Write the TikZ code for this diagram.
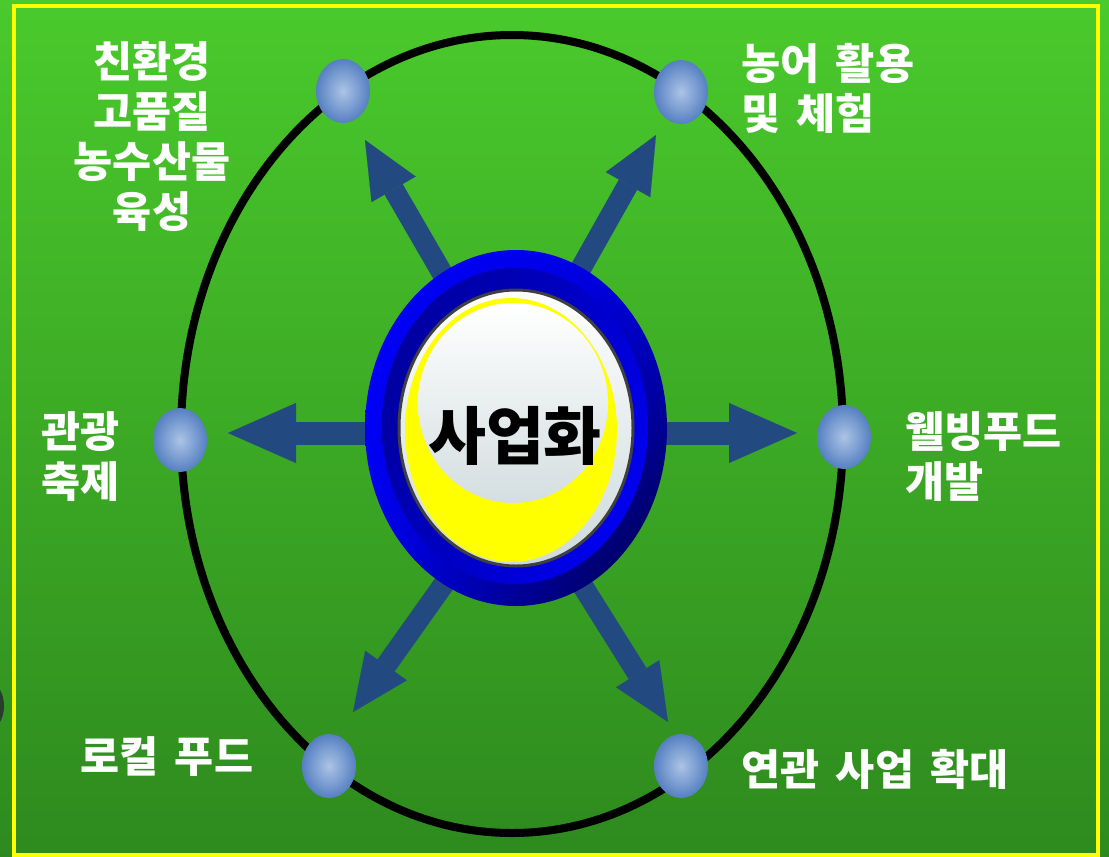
\documentclass[tikz,border=0pt]{standalone}
\usepackage{fontspec}
\newfontfamily\kr{Noto Sans CJK KR}[WordSpace=1.7]
\usetikzlibrary{arrows.meta,shapes.geometric,shadings}
\definecolor{arrowblue}{RGB}{35,74,128}
\definecolor{dotin}{RGB}{172,196,230}
\definecolor{dotout}{RGB}{86,128,194}
\definecolor{bgtop}{RGB}{74,202,44}
\definecolor{bgbot}{RGB}{46,138,30}
\definecolor{ringA}{RGB}{0,0,255}
\definecolor{ringB}{RGB}{0,0,224}
\definecolor{ringC}{RGB}{0,0,236}
\definecolor{ringD}{RGB}{0,0,64}
\definecolor{innA}{RGB}{0,0,150}
\definecolor{innB}{RGB}{0,0,210}
\definecolor{innC}{RGB}{0,0,180}
\definecolor{innD}{RGB}{0,0,255}
\definecolor{rimgray}{RGB}{64,64,64}
\definecolor{paleB}{RGB}{205,218,220}
\definecolor{paleC}{RGB}{212,222,224}
\definecolor{stray}{RGB}{40,62,45}
\definecolor{pureyellow}{RGB}{255,255,0}
\begin{document}
\begin{tikzpicture}[x=1pt,y=-1pt,
  dot/.style={ellipse, minimum width=54pt, minimum height=64pt, inner sep=0pt,
    shade, inner color=dotin, outer color=dotout},
  lbl/.style={text=white, font=\kr\bfseries\fontsize{42.5}{50}\selectfont, inner sep=0pt},
  diagarrow/.style={draw=arrowblue, line width=21pt,
    -{Triangle[length=57pt,width=51pt,line width=0.1pt]}},
  horarrow/.style={draw=arrowblue, line width=23pt,
    -{Triangle[length=68pt,width=60pt,line width=0.1pt]}}
]
\useasboundingbox (0,0) rectangle (1109,857);
% background
\shade[top color=bgtop, bottom color=bgbot] (0,0) rectangle (1109,857);
\fill[stray] (-10,706) ellipse [x radius=14pt, y radius=23pt];
\draw[pureyellow, line width=4pt] (14,6) rectangle (1098,855);
% big orbit
\draw[black, line width=8pt] (512,434) ellipse [x radius=331pt, y radius=399pt];
% dots
\node[dot] (c1) at (343,91) {};
\node[dot] (c2) at (681,92) {};
\node[dot] (c3) at (180,440) {};
\node[dot] (c4) at (844,437) {};
\node[dot] (c5) at (329,766) {};
\node[dot] (c6) at (681,766) {};
% arrow coordinates
\coordinate (s1) at (456,297); \coordinate (t1) at (365,140);
\coordinate (s2) at (567,293); \coordinate (t2) at (656,135);
\coordinate (s3) at (400,433); \coordinate (t3) at (228,433);
\coordinate (s4) at (640,433); \coordinate (t4) at (797,433);
\coordinate (s5) at (461,560); \coordinate (t5) at (353,712);
\coordinate (s6) at (567,561); \coordinate (t6) at (668,722);
\draw[diagarrow] (s1) -- (t1);
\draw[diagarrow] (s2) -- (t2);
\draw[horarrow] (s3) -- (t3);
\draw[horarrow] (s4) -- (t4);
\draw[diagarrow] (s5) -- (t5);
\draw[diagarrow] (s6) -- (t6);
% central badge
\shade[upper left=ringA, upper right=ringB, lower left=ringC, lower right=ringD]
  (516,428) ellipse [x radius=151pt, y radius=178pt];
\shade[upper left=innA, upper right=innB, lower left=innC, lower right=innD]
  (515,426) ellipse [x radius=133pt, y radius=158pt];
\shade[top color=white, bottom color=paleB, draw=rimgray, line width=3pt]
  (516,428) ellipse [x radius=117pt, y radius=138pt];
\fill[pureyellow] (511,430) ellipse [x radius=106pt, y radius=132pt];
\shade[top color=white, bottom color=paleC]
  (513,403) ellipse [x radius=95pt, y radius=100pt];
\node[font=\kr\bfseries\fontsize{63}{66}\selectfont, text=black, inner sep=0pt] (ctr) at (515,436) {사업화};
% labels
\node[lbl, align=center] (l1) at (152,137) {친환경\\고품질\\농수산물\\육성};
\node[lbl, align=left, anchor=west] (l2) at (741,88) {농어 활용\\및 체험};
\node[lbl, align=left, anchor=west] (l3) at (41,457) {관광\\축제};
\node[lbl, align=left, anchor=west] (l4) at (905,457) {웰빙푸드\\개발};
\node[lbl, anchor=west] (l5) at (80,757) {로컬 푸드};
\node[lbl, anchor=west] (l6) at (741,769) {연관 사업 확대};
\end{tikzpicture}
\end{document}
